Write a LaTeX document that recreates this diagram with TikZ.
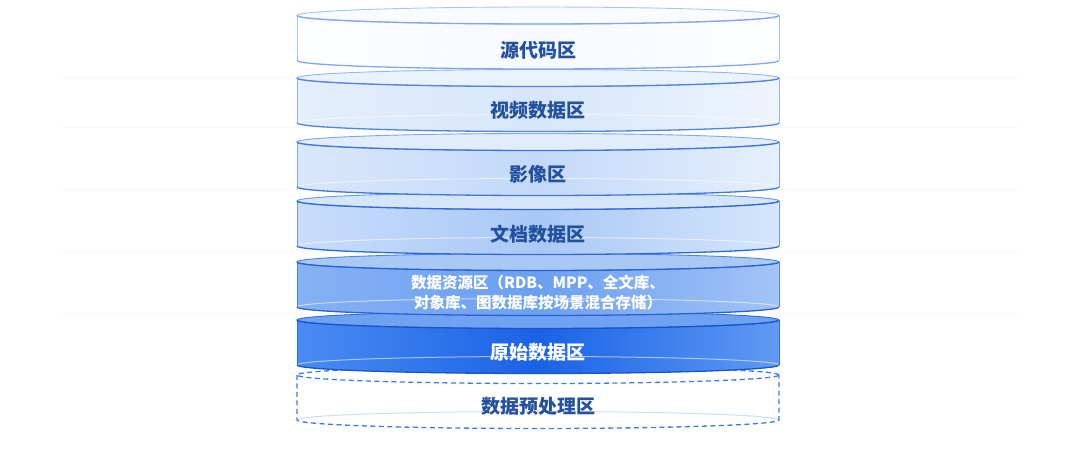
\documentclass[tikz,border=0pt]{standalone}
\usepackage{fontspec}
\newfontfamily\cjk{Noto Sans CJK SC}
\definecolor{txtd}{HTML}{23509F}
\definecolor{dashc}{HTML}{3A7BE8}
\definecolor{gridc}{HTML}{F7F8FA}
\newcommand\diskbody[7]{%
  \definecolor{dkL}{HTML}{#2}\definecolor{dkM}{HTML}{#3}\definecolor{dkR}{HTML}{#4}%
  \definecolor{dkT}{HTML}{#5}\definecolor{dkE}{HTML}{#6}\definecolor{dkF}{HTML}{#7}%
  \pgfmathsetmacro\yt{449-#1}%
  \pgfmathsetmacro\yb{449-#1-45}%
  \path[left color=dkL,right color=dkR,middle color=dkM]
    (297,\yt) -- (297,\yb) arc[start angle=180,end angle=360,x radius=241,y radius=8.5]
    -- (779,\yt) arc[start angle=0,end angle=180,x radius=241,y radius=8.5] -- cycle;
  \draw[white,opacity=0.55,line width=1]
    (779,\yb) arc[start angle=0,end angle=180,x radius=241,y radius=8.5];
  \fill[dkT] (538,\yt) ellipse[x radius=241,y radius=8.5];
  \draw[dkE,line width=0.9] (538,\yt) ellipse[x radius=241,y radius=8.5];
  \draw[dkE,line width=0.9] (297,\yt) -- (297,\yb);
  \draw[dkE,line width=0.9] (779,\yt) -- (779,\yb);
  \draw[dkF,line width=1.3] (297,\yt) arc[start angle=180,end angle=360,x radius=241,y radius=8.5];
  \draw[dkF,line width=1.3] (297,\yb) arc[start angle=180,end angle=360,x radius=241,y radius=8.5];
}
\tikzset{
  disktext/.style={font=\cjk\bfseries\fontsize{19}{22}\selectfont, inner sep=0pt, anchor=center},
  smalltext/.style={font=\cjk\bfseries\fontsize{15.5}{20}\selectfont, inner sep=0pt, anchor=center, align=center},
  dashline/.style={dashc, line width=1.3, dash pattern=on 5pt off 3.5pt}
}
\begin{document}
\begin{tikzpicture}[x=1pt,y=1pt]
\useasboundingbox (0,0) rectangle (1080,449);
\fill[white] (0,0) rectangle (1080,449);
% faint background grid
\foreach \gy in {372,322,260,198,136} \draw[gridc,line width=0.5] (60,\gy) -- (1020,\gy);
% disk 7 (dashed)
\pgfmathsetmacro\yt{449-375}\pgfmathsetmacro\yb{449-375-45}
\fill[white] (297,\yt) -- (297,\yb) arc[start angle=180,end angle=360,x radius=241,y radius=8.5]
    -- (779,\yt) arc[start angle=0,end angle=180,x radius=241,y radius=8.5] -- cycle;
\draw[dashc!25,line width=1] (779,\yb) arc[start angle=0,end angle=180,x radius=241,y radius=8.5];
\draw[dashline] (538,\yt) ellipse[x radius=241,y radius=8.5];
\draw[dashline] (297,\yt) -- (297,\yb) arc[start angle=180,end angle=360,x radius=241,y radius=8.5] -- (779,\yt);
\node[disktext, text=txtd] (t7) at (538,449-406) {数据预处理区};
% disk 6
\diskbody{320}{4A8CF2}{1A62E6}{5F9AF3}{6FA3F2}{2F6FE0}{1A55C8}
\node[disktext, text=white] (t6) at (538,449-352) {原始数据区};
% disk 5
\diskbody{262}{86B1F4}{6B9FF1}{A3C4F6}{A9C8F6}{4A86E8}{2A62D0}
\node[smalltext, text=white] (t5) at (538,449-293) {数据资源区（RDB、MPP、全文库、\\对象库、图数据库按场景混合存储）};
% disk 4
\diskbody{201}{C9DDFA}{A8C8F6}{D6E6FB}{D5E5FB}{6B9AE8}{2F6AD6}
\node[disktext, text=txtd] (t4) at (538,449-234) {文档数据区};
% disk 3
\diskbody{142}{D9E7FB}{C3D9F9}{E6EFFD}{E1ECFC}{7EA8EC}{3F78DD}
\node[disktext, text=txtd] (t3) at (538,449-174) {影像区};
% disk 2
\diskbody{78}{E4EEFC}{D6E6FB}{EEF4FD}{EAF2FD}{93B7EF}{4F86E0}
\node[disktext, text=txtd] (t2) at (538,449-110) {视频数据区};
% disk 1
\diskbody{15.5}{FDFEFF}{F6F9FE}{FDFEFF}{F8FBFF}{A9C6F3}{7EA8EC}
\node[disktext, text=txtd] (t1) at (538,449-50) {源代码区};
\end{tikzpicture}
\end{document}
